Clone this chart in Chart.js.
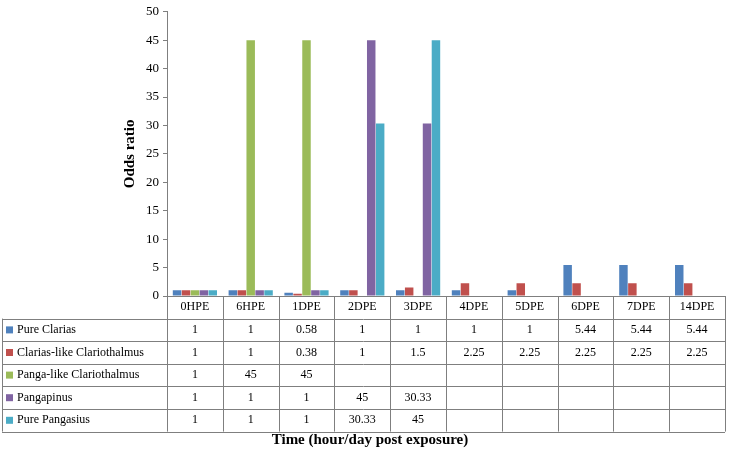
<!DOCTYPE html>
<html>
<head>
<meta charset="utf-8">
<script src="https://cdn.jsdelivr.net/npm/chart.js@4"></script>
<style>
  body { margin: 0; background: #fff; }
  #wrap { width: 739px; height: 451px; }
</style>
</head>
<body>
<div id="wrap"><canvas id="c" width="739" height="451"></canvas></div>
<script>
// Categories along the time axis
const categories = ['0HPE', '6HPE', '1DPE', '2DPE', '3DPE', '4DPE', '5DPE', '6DPE', '7DPE', '14DPE'];

// Series values (null = no value in the table)
const pureClarias = [1, 1, 0.58, 1, 1, 1, 1, 5.44, 5.44, 5.44];
const clariasLike = [1, 1, 0.38, 1, 1.5, 2.25, 2.25, 2.25, 2.25, 2.25];
const pangaLike = [1, 45, 45, null, null, null, null, null, null, null];
const pangapinus = [1, 1, 1, 45, 30.33, null, null, null, null, null];
const purePangasius = [1, 1, 1, 30.33, 45, null, null, null, null, null];

const seriesNames = ['Pure Clarias', 'Clarias-like Clariothalmus', 'Panga-like Clariothalmus', 'Pangapinus', 'Pure Pangasius'];
const seriesData = [pureClarias, clariasLike, pangaLike, pangapinus, purePangasius];
const seriesColors = ['#4F81BD', '#C0504D', '#9BBB59', '#8064A2', '#4BACC6'];

const yTicks = [0, 5, 10, 15, 20, 25, 30, 35, 40, 45, 50];

const serif = '"Liberation Serif", "Times New Roman", serif';

// Draws the data table under the plot plus the axis titles
const tablePlugin = {
    id: 'dataTable',
    afterDraw(chart) {
        const ctx = chart.ctx;
        const area = chart.chartArea;
        const xs = chart.scales.x;
        const colW = (area.right - area.left) / categories.length;
        const rowH = 22.6;
        const tableLeft = 2;
        const top = area.bottom;
        const bottom = top + rowH * 6;

        ctx.save();
        ctx.strokeStyle = '#7f7f7f';
        ctx.lineWidth = 1;

        // horizontal lines
        ctx.beginPath();
        ctx.moveTo(area.left, top + 0.5);
        ctx.lineTo(area.right, top + 0.5);
        for (let r = 1; r <= 6; r++) {
            const y = Math.round(top + rowH * r) + 0.5;
            ctx.moveTo(tableLeft, y);
            ctx.lineTo(area.right, y);
        }
        // vertical lines
        for (let c = 0; c <= categories.length; c++) {
            const x = Math.round(area.left + colW * c) + 0.5;
            ctx.moveTo(x, top);
            ctx.lineTo(x, bottom);
        }
        ctx.moveTo(tableLeft + 0.5, top + rowH);
        ctx.lineTo(tableLeft + 0.5, bottom);
        ctx.stroke();

        ctx.fillStyle = '#000';
        ctx.font = '12px ' + serif;
        ctx.textBaseline = 'middle';
        ctx.textAlign = 'center';
        categories.forEach((cat, i) => {
            ctx.fillText(cat, xs.getPixelForValue(i), top + rowH / 2);
        });

        seriesNames.forEach((name, s) => {
            const yMid = top + rowH * (s + 1.5);
            ctx.fillStyle = seriesColors[s];
            ctx.fillRect(tableLeft + 4, yMid - 3.5, 7, 7);
            ctx.fillStyle = '#000';
            ctx.textAlign = 'left';
            ctx.fillText(name, tableLeft + 15, yMid);
            ctx.textAlign = 'center';
            seriesData[s].forEach((v, i) => {
                if (v !== null) ctx.fillText(String(v), xs.getPixelForValue(i), yMid);
            });
        });

        // axis titles
        ctx.font = 'bold 15px ' + serif;
        ctx.textAlign = 'center';
        ctx.fillText('Time (hour/day post exposure)', 370, 440);
        ctx.translate(130, (area.top + area.bottom) / 2);
        ctx.rotate(-Math.PI / 2);
        ctx.fillText('Odds ratio', 0, 0);
        ctx.restore();
    }
};

new Chart(document.getElementById('c'), {
    type: 'bar',
    data: {
        labels: categories,
        datasets: seriesNames.map((name, s) => ({
            label: name,
            data: seriesData[s],
            backgroundColor: seriesColors[s],
        })),
    },
    options: {
        responsive: false,
        animation: false,
        layout: { padding: { top: 6, right: 14, bottom: 155, left: 0 } },
        datasets: { bar: { categoryPercentage: 0.8, barPercentage: 0.95 } },
        plugins: {
            legend: { display: false },
            tooltip: { enabled: false },
        },
        scales: {
            x: { display: false },
            y: {
                min: 0,
                max: 50,
                afterFit(scale) { scale.width = 167; },
                afterBuildTicks(scale) { scale.ticks = yTicks.map(v => ({ value: v })); },
                grid: { drawOnChartArea: false, drawTicks: true, tickLength: 4, color: '#7f7f7f' },
                border: { display: true, color: '#7f7f7f' },
                ticks: { color: '#000', font: { family: serif, size: 13 }, padding: 4 },
            },
        },
    },
    plugins: [tablePlugin],
});
</script>
</body>
</html>
